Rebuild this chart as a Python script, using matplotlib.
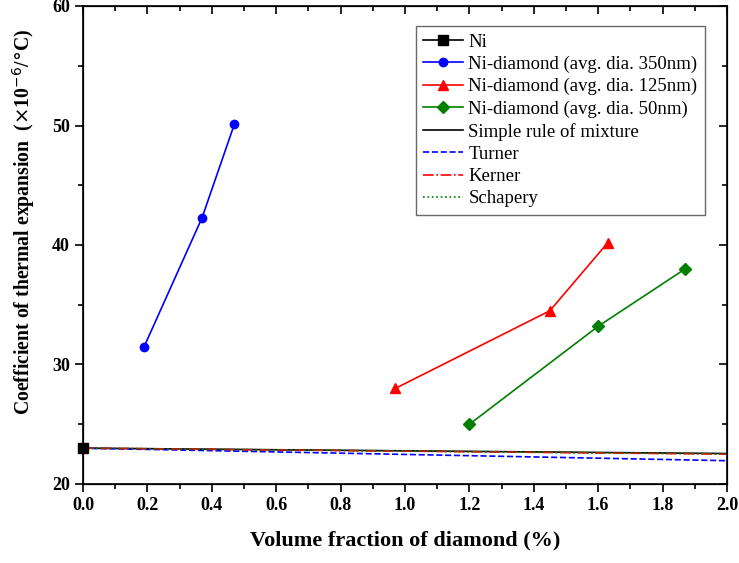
import numpy as np
import matplotlib.pyplot as plt

plt.rcParams['font.family'] = ['Liberation Serif', 'DejaVu Serif']

# measured data
ni_x = [0.0]
ni_y = [23.0]
d350_x = [0.19, 0.37, 0.47]
d350_y = [31.5, 42.3, 50.1]
d125_x = [0.97, 1.45, 1.63]
d125_y = [28.0, 34.5, 40.2]
d50_x = [1.20, 1.60, 1.87]
d50_y = [25.0, 33.2, 38.0]

# model predictions
model_x = [0.0, 2.0]
rule_y = [23.0, 22.55]
turner_y = [23.0, 21.95]
kerner_y = [23.0, 22.5]
schapery_y = [23.0, 22.52]

fig = plt.figure(figsize=(7.39, 5.63), dpi=100)
ax = fig.add_axes([83/739, 1-484/563, 644/739, 478/563])

ax.plot(ni_x, ni_y, 'ks-', ms=7, lw=1.2, label='Ni', clip_on=False, zorder=5)
ax.plot(d350_x, d350_y, 'o-', color='#0000ff', ms=6, lw=1.2,
        label='Ni-diamond (avg. dia. 350nm)')
ax.plot(d125_x, d125_y, '^-', color='#ff0000', ms=7, lw=1.2,
        label='Ni-diamond (avg. dia. 125nm)')
ax.plot(d50_x, d50_y, 'D-', color='#008000', ms=6, lw=1.2,
        label='Ni-diamond (avg. dia. 50nm)')
ax.plot(model_x, rule_y, '-', color='black', lw=1.2, label='Simple rule of mixture')
ax.plot(model_x, turner_y, '--', color='#0000ff', lw=1.2, label='Turner')
ax.plot(model_x, kerner_y, '-.', color='#ff0000', lw=1.2, label='Kerner')
ax.plot(model_x, schapery_y, ':', color='#008000', lw=1.2, label='Schapery')

ax.set_xlim(0, 2.0)
ax.set_ylim(20, 60)
ax.set_xticks(np.arange(0, 2.01, 0.2))
ax.set_xticks(np.arange(0.1, 2.0, 0.2), minor=True)
ax.set_yticks(np.arange(20, 61, 10))
ax.set_yticks(np.arange(25, 60, 10), minor=True)
ax.set_xticklabels(['%.1f' % v for v in np.arange(0, 2.01, 0.2)],
                   fontweight='bold', fontsize=13)
ax.set_yticklabels([str(v) for v in range(20, 61, 10)],
                   fontweight='bold', fontsize=13)

ax.tick_params(which='both', direction='out', top=False, right=False, width=1.2)
ax.tick_params(which='major', length=6)
ax.tick_params(which='minor', length=3.5)
for s in ax.spines.values():
    s.set_linewidth(1.2)

# inward ticks on the top and right frame
ax2 = ax.twiny()
ax2.set_xlim(ax.get_xlim())
ax2.set_xticks(ax.get_xticks())
ax2.set_xticks(ax.get_xticks(minor=True), minor=True)
ax2.tick_params(which='both', direction='in', labeltop=False, width=1.2)
ax2.tick_params(which='major', length=6)
ax2.tick_params(which='minor', length=3.5)
ax3 = ax.twinx()
ax3.set_ylim(ax.get_ylim())
ax3.set_yticks(ax.get_yticks())
ax3.set_yticks(ax.get_yticks(minor=True), minor=True)
ax3.tick_params(which='both', direction='in', labelright=False, width=1.2)
ax3.tick_params(which='major', length=6)
ax3.tick_params(which='minor', length=3.5)

ax.set_xlabel('Volume fraction of diamond (%)', fontweight='bold', fontsize=16,
              labelpad=12)
ax.set_ylabel(r'Coefficient of thermal expansion  ($\times$10$^{-6}$/$\degree$C)',
              fontweight='bold', fontsize=14.2)
ax.yaxis.set_label_coords(-0.071, 0.548)

leg = ax.legend(loc='upper right', bbox_to_anchor=(0.966, 0.958), fontsize=13.5,
                frameon=True, fancybox=False, edgecolor='#444444',
                handlelength=2.1, borderpad=0.4, labelspacing=0.27,
                handletextpad=0.3, borderaxespad=0)
leg.get_frame().set_linewidth(1.0)
leg.set_zorder(10)

fig.savefig('out.png', dpi=100)
